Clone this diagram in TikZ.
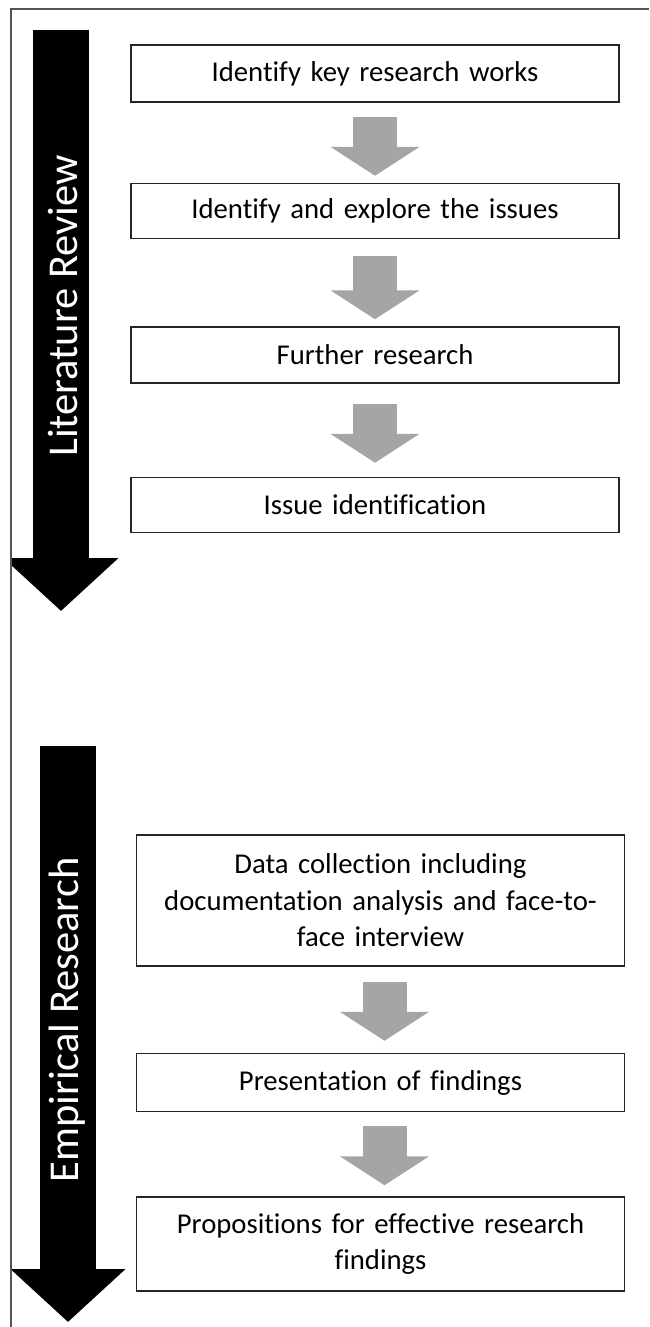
\documentclass[tikz,border=0pt]{standalone}
\usepackage{fontspec}
\setmainfont{Carlito}[Ligatures=NoCommon]
\usetikzlibrary{arrows.meta,positioning}
\definecolor{flowgray}{RGB}{165,165,165}
\definecolor{framegray}{RGB}{85,85,85}

\begin{document}
\begin{tikzpicture}[x=1pt, y=1pt, node distance=80pt,
  box/.style={draw=black!85, line width=1.5pt, text width=468pt, inner xsep=10pt,
    align=center, font=\fontsize{28.7}{36.5}\selectfont},
  flow/.style={line width=44pt, flowgray, -{Triangle[width=88pt, length=29pt]},
    shorten <=14pt, shorten >=7pt},
  phase/.style={line width=56pt, -{Triangle[width=112pt, length=53pt]}},
  phaselabel/.style={rotate=90, text=white, inner sep=0pt,
    font=\fontsize{42.5}{51}\selectfont}]
  \useasboundingbox (0,0) rectangle (649,-1327);
  \draw[framegray, line width=1.2pt] (649,-9) -- (11,-9) -- (11,-1327);

  % literature review
  \node[box, minimum height=57pt] (L1) at (375,-73.5) {Identify key research works};
  \node[box, minimum height=55pt, below=80pt of L1] (L2) {Identify and explore the issues};
  \node[box, minimum height=56pt, below=87pt of L2] (L3) {Further research};
  \node[box, minimum height=55pt, below=93pt of L3] (L4) {Issue identification};

  \draw[flow] (L1) -- (L2);
  \draw[flow, shorten <=17pt] (L2) -- (L3);
  \draw[flow, shorten <=20pt, shorten >=14pt] (L3) -- (L4);

  % empirical research
  \node[box, minimum height=131pt] (E1) at (380.5,-900.5)
    {Data collection including\\documentation analysis and face-to-\\face interview};
  \node[box, minimum height=58pt, below=86pt of E1] (E2) {Presentation of findings};
  \node[box, minimum height=94pt, below=84pt of E2] (E3)
    {Propositions for effective research\\findings};

  \draw[flow, shorten <=15pt, shorten >=12pt] ([xshift=4pt]E1.south) -- ([xshift=4pt]E2.north);
  \draw[flow, shorten <=14pt, shorten >=11pt] ([xshift=4pt]E2.south) -- ([xshift=4pt]E3.north);

  % phase arrows
  \coordinate (LRtop) at (61,-30);
  \coordinate (LRend) at (61,-611);
  \coordinate (ERtop) at (68,-746);
  \coordinate (ERend) at (68,-1322);
  \begin{scope}
    \clip (12,-9) rectangle (649,-1327);
    \draw[phase] (LRtop) -- (LRend);
    \draw[phase] (ERtop) -- (ERend);
  \end{scope}
  \node[phaselabel] (LR) at (63,-306) {Literature Review};
  \node[phaselabel] (ER) at (67.5,-1020) {Empirical Research};
\end{tikzpicture}
\end{document}
